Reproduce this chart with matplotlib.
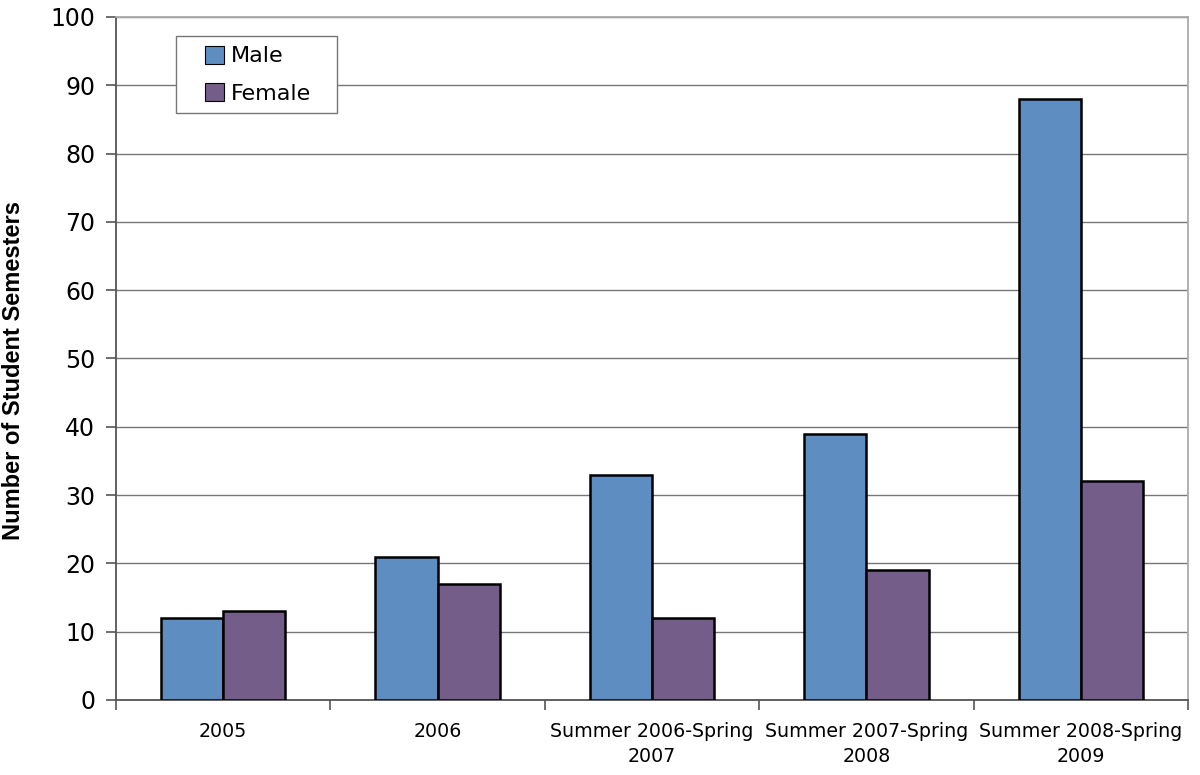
import numpy as np
import matplotlib
matplotlib.use("Agg")
import matplotlib.pyplot as plt
from matplotlib.patches import Rectangle

categories = ["2005", "2006", "Summer 2006-Spring\n2007", "Summer 2007-Spring\n2008", "Summer 2008-Spring\n2009"]
male = [12, 21, 33, 39, 88]
female = [13, 17, 12, 19, 32]

male_color = "#5e8ec1"
female_color = "#745d89"

fig = plt.figure(figsize=(12, 7.75), dpi=100)
ax = fig.add_axes([0.0967, 0.0968, 0.8933, 0.8813])

x = np.arange(len(categories))
w = 0.29
ax.bar(x - w / 2, male, w, color=male_color, edgecolor="black", linewidth=1.8, label="Male", zorder=3)
ax.bar(x + w / 2, female, w, color=female_color, edgecolor="black", linewidth=1.8, label="Female", zorder=3)

ax.set_xlim(-0.5, len(categories) - 0.5)
ax.set_ylim(0, 100)
ax.set_yticks(range(0, 101, 10))
ax.tick_params(axis="y", labelsize=17, length=7, color="#555555", width=1.2, pad=8)

# category labels sit between the boundary ticks
ax.set_xticks(np.arange(-0.5, len(categories), 1))
ax.set_xticklabels([])
ax.set_xticks(x, minor=True)
ax.set_xticklabels(categories, minor=True, fontsize=13.7, linespacing=1.4)
ax.tick_params(axis="x", which="major", length=7, color="#555555", width=1.2)
ax.tick_params(axis="x", which="minor", length=0, pad=16)

ax.yaxis.grid(True, color="#777777", linewidth=1.0, zorder=0)
for side in ["left", "bottom"]:
    ax.spines[side].set_color("#555555")
    ax.spines[side].set_linewidth(1.3)
for side in ["top", "right"]:
    ax.spines[side].set_color("#aaaaaa")
    ax.spines[side].set_linewidth(1.3)

ax.set_ylabel("Number of Student Semesters", fontsize=17, fontweight="bold",
              family="Liberation Sans", labelpad=18, y=0.483)

# legend box drawn by hand (Excel-style wide padding)
ax.add_patch(Rectangle((0.056, 0.859), 0.150, 0.113, transform=ax.transAxes,
                       facecolor="white", edgecolor="#777777", linewidth=1.0, zorder=4))
leg = ax.legend(loc="upper left", bbox_to_anchor=(0.083, 0.958), fontsize=16,
                frameon=False, handlelength=0.86, handleheight=0.86, borderpad=0,
                labelspacing=0.75, handletextpad=0.3, borderaxespad=0)
leg.set_zorder(5)
for h in leg.legend_handles:
    h.set_linewidth(0.8)

fig.savefig("out.png", dpi=100)
